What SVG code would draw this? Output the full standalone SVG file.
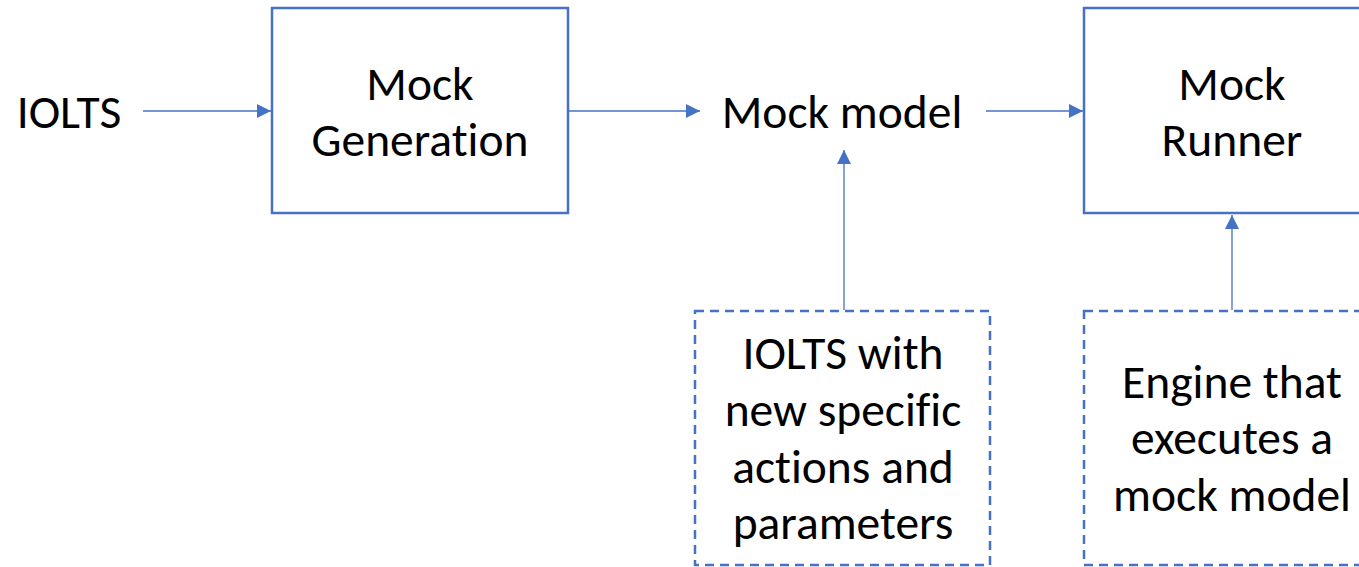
<svg xmlns="http://www.w3.org/2000/svg" width="1359" height="567" viewBox="0 0 1359 567">
<defs>
<style>
.box{fill:#fff;stroke:#4472C4;stroke-width:2.5}
.dbox{fill:#fff;stroke:#4472C4;stroke-width:2.5;stroke-dasharray:9 6}
.conn{stroke:#4472C4;stroke-width:1.3;fill:none;marker-end:url(#ah)}
.t{font-family:Carlito,Calibri,Lato,sans-serif;font-size:47.5px;fill:#000;text-anchor:middle;font-variant-ligatures:none}
</style>
<marker id="ah" viewBox="0 0 10 10" refX="10" refY="5" markerWidth="14" markerHeight="14" markerUnits="userSpaceOnUse" orient="auto">
<path d="M0,0 L10,5 L0,10 z" fill="#4472C4"/>
</marker>
</defs>
<rect width="1359" height="567" fill="#fff"/>
<g id="connectors">
<line class="conn" x1="143" y1="111" x2="271" y2="111"/>
<line class="conn" x1="569" y1="111" x2="700" y2="111"/>
<line class="conn" x1="986" y1="111" x2="1083" y2="111"/>
<line class="conn" x1="844" y1="310" x2="844" y2="150"/>
<line class="conn" x1="1232" y1="310" x2="1232" y2="215"/>
</g>
<g id="iolts"><text class="t" x="69" y="128">IOLTS</text></g>
<g id="mockgen">
<rect class="box" x="272" y="8" width="296" height="205"/>
<text class="t" x="420" y="100">Mock</text>
<text class="t" x="420" y="156">Generation</text>
</g>
<g id="mockmodel"><text class="t" x="842" y="128">Mock model</text></g>
<g id="mockrunner">
<rect class="box" x="1084" y="8" width="290" height="205"/>
<text class="t" x="1232" y="100">Mock</text>
<text class="t" x="1232" y="156">Runner</text>
</g>
<g id="ioltsnote">
<rect class="dbox" x="695" y="311" width="295" height="254"/>
<text class="t" x="843" y="369">IOLTS with</text>
<text class="t" x="843" y="426">new specific</text>
<text class="t" x="843" y="483">actions and</text>
<text class="t" x="843" y="539">parameters</text>
</g>
<g id="enginenote">
<rect class="dbox" x="1084" y="311" width="290" height="254"/>
<text class="t" x="1232" y="398">Engine that</text>
<text class="t" x="1232" y="454">executes a</text>
<text class="t" x="1232" y="511">mock model</text>
</g>
</svg>
